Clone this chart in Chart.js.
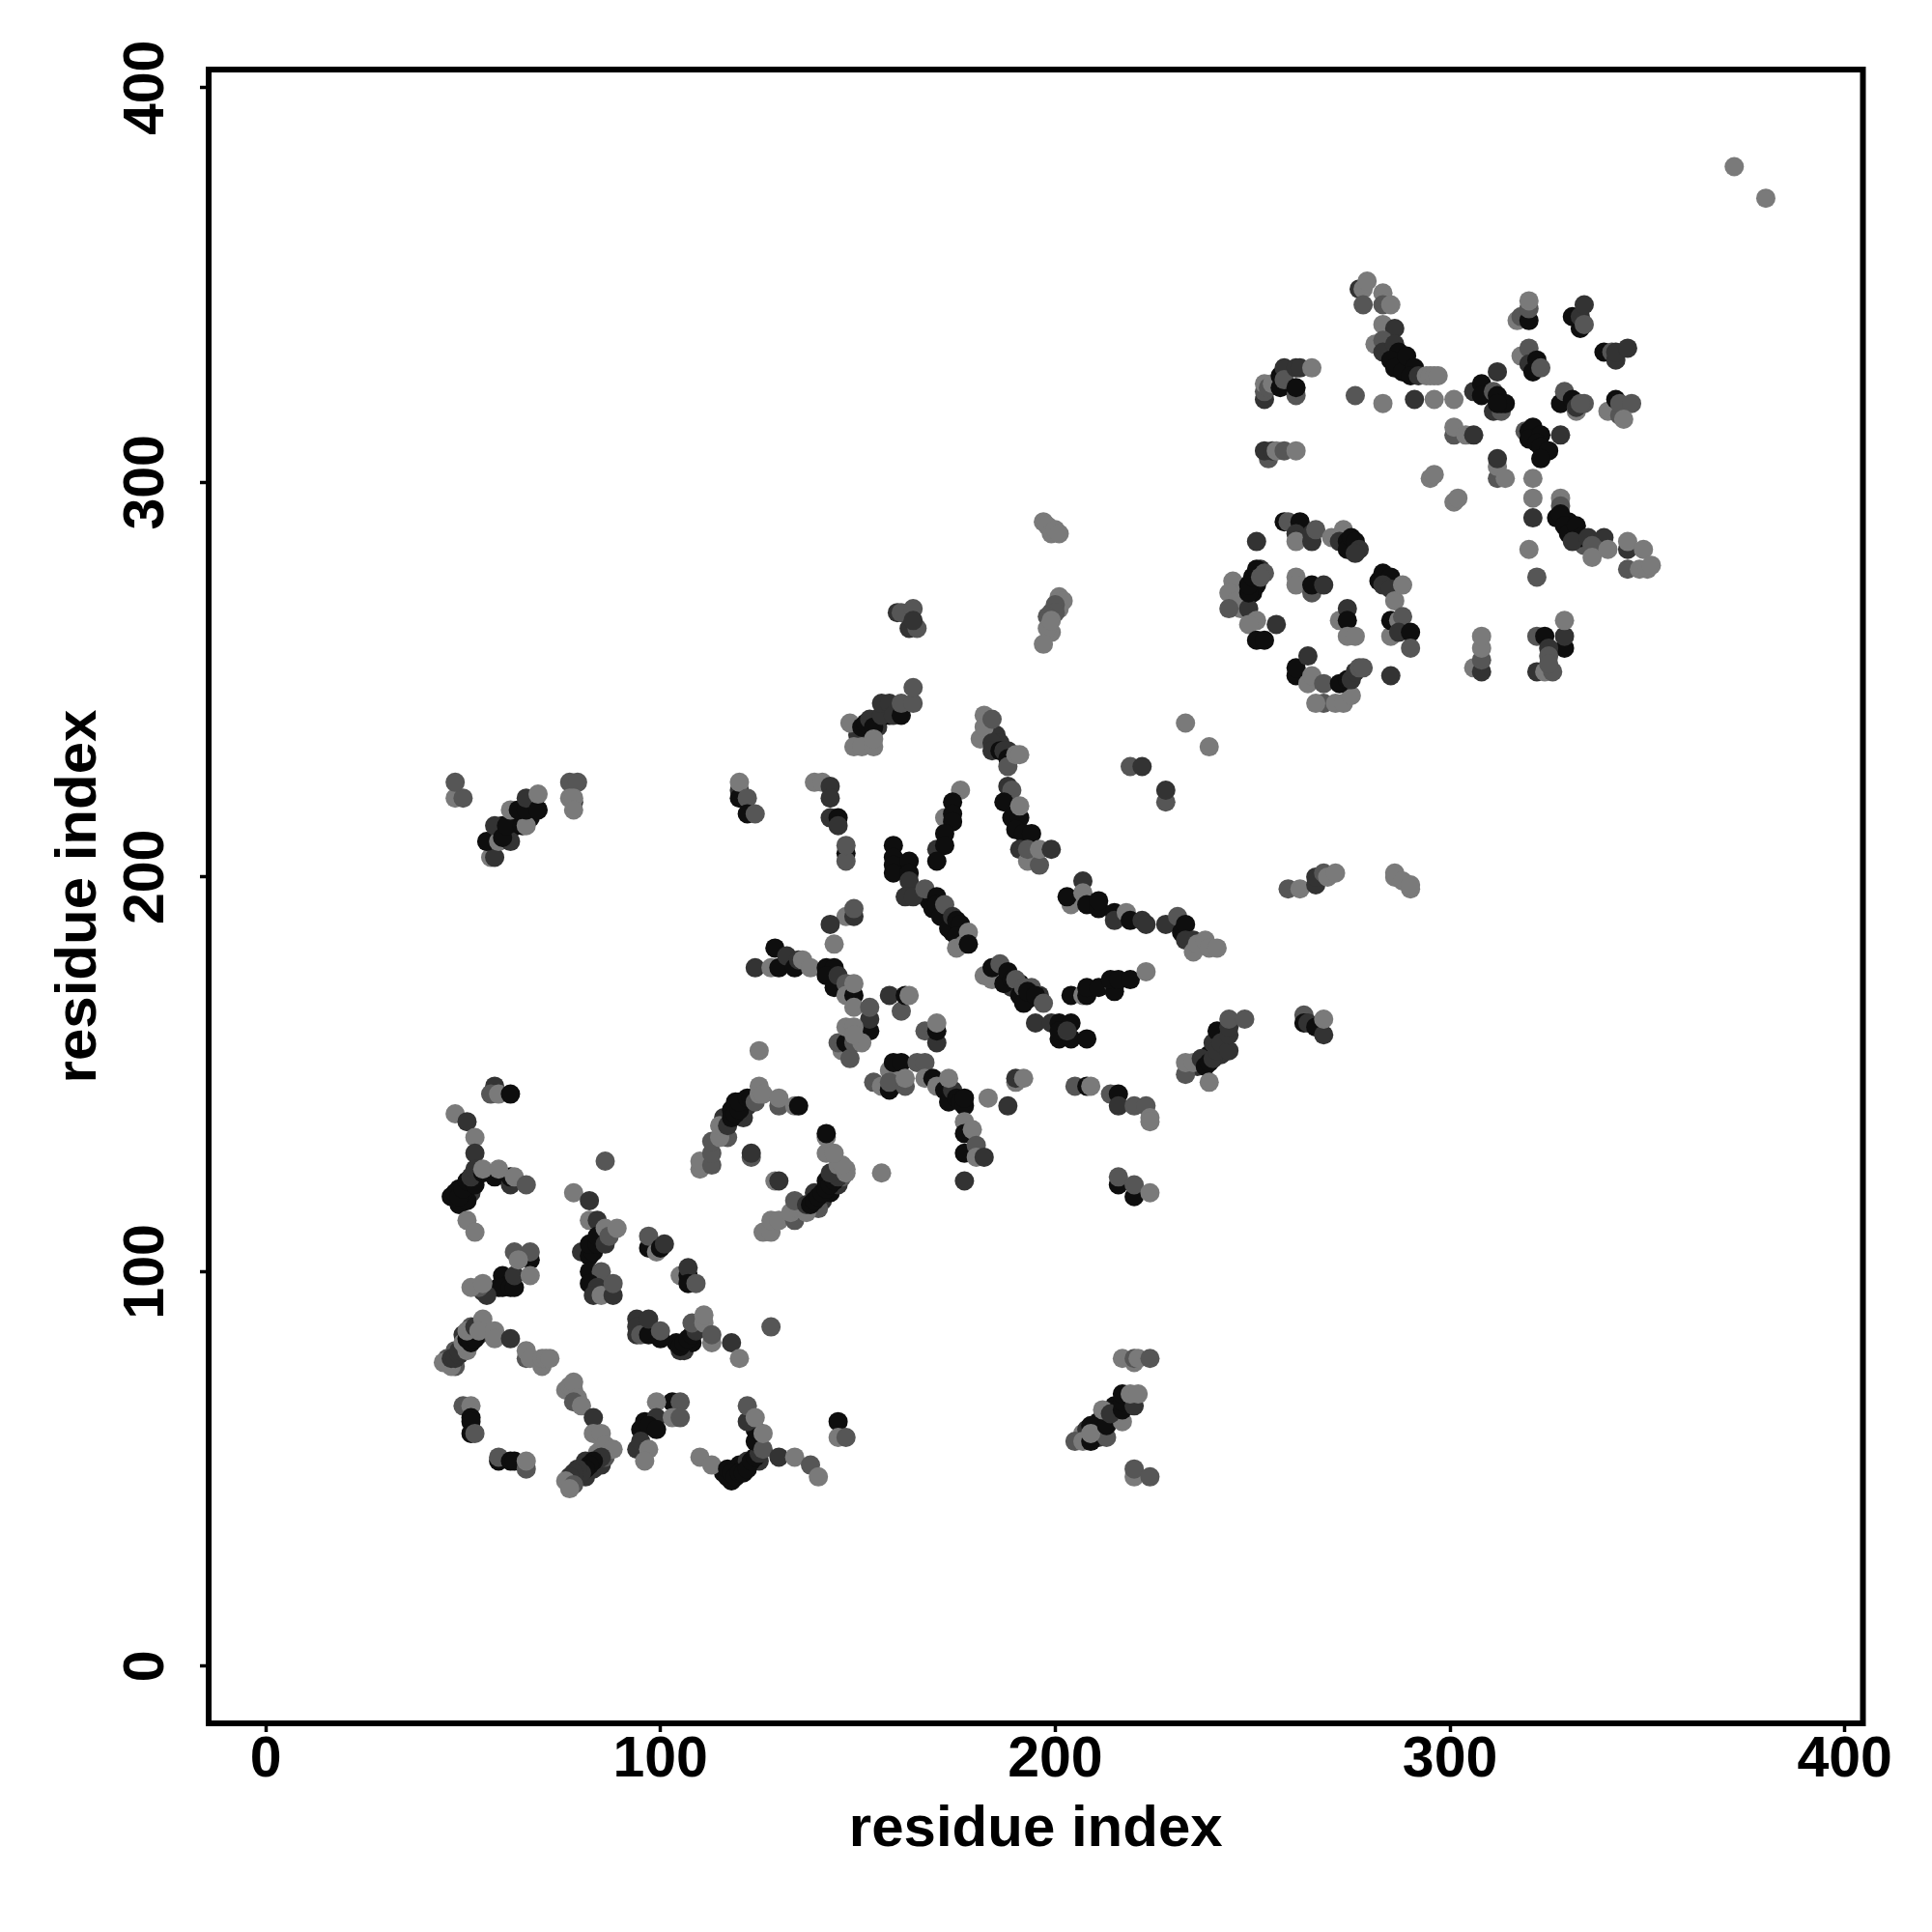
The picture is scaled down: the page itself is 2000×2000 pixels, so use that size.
<!DOCTYPE html>
<html>
<head>
<meta charset="utf-8">
<title>residue contact map</title>
<script src="https://cdn.jsdelivr.net/npm/chart.js@4/dist/chart.umd.min.js"></script>
<style>
  html, body { margin: 0; padding: 0; background: #fff; }
  canvas { display: block; }
</style>
</head>
<body>
<canvas id="contact-map" width="2000" height="2000"></canvas>
<script>
// contacts as [residue i, residue j, strength]; strength 1 (weak) .. 4 (strong)
const denseCoreLow = [[48,80,2],[50,84,3],[52,86,2],[54,84,3],[48,76,2],[46,78,2],[47,119,4],[49,121,4],[52,120,3],[60,213,4],[62,212,4],[63,215,4],[67,215,4],[68,219,3],[79,48,3],[81,48,3],[83,50,3],[85,51,3],[86,53,2],[84,54,1],[81,52,3],[94,84,3],[97,86,3],[99,84,2],[96,86,4],[104,82,4],[106,80,3],[108,82,4],[110,86,3],[116,49,4],[118,47,4],[120,51,4],[122,52,3],[125,52,3],[116,139,3],[118,141,4],[121,139,3],[122,142,3],[119,143,4],[139,120,3],[141,118,3],[143,120,4],[145,122,3],[142,123,4],[140,116,2],[146,124,2],[147,126,1]];
const denseCoreHigh = [[150,236,3],[152,236,3],[155,238,3],[158,241,4],[168,194,4],[172,190,4],[174,186,4],[176,186,3],[177,185,2],[183,236,2],[185,236,3],[186,234,3],[188,232,3],[186,175,3],[189,172,3],[191,173,4],[193,169,4],[196,170,3],[194,172,2],[199,267,2],[201,268,1],[199,262,1],[207,59,1],[208,60,3],[210,60,4],[211,62,4],[211,58,3],[215,63,3],[215,66,4],[236,152,3],[239,155,4],[240,158,3],[242,155,3],[247,272,1],[248,270,2],[247,268,1],[250,272,4],[251,274,4],[252,278,3],[284,333,3],[284,336,3],[288,330,4],[330,290,4],[332,286,3],[334,284,2]];
const starLeft = [[58,147,3],[57,145,2],[59,145,1],[62,145,4],[48,140,1],[51,138,3],[53,134,1],[53,130,3],[49,117,4],[51,118,4],[48,120,4],[50,120,4],[49,119,4],[50,121,4],[51,123,4],[53,122,4],[52,124,3],[53,126,3],[55,125,4],[58,124,4],[62,122,3],[62,124,4],[55,126,1],[59,126,1],[63,124,1],[66,122,2],[51,113,1],[53,110,1]];
const patchA2 = [[60,99,4],[62,97,4],[59,96,4],[60,96,4],[62,96,4],[63,96,4],[63,99,3],[55,95,3],[56,94,3],[54,96,2],[52,96,1],[55,97,1],[67,103,4],[63,105,2],[67,105,2],[64,103,1],[67,99,1]];
const arcA3 = [[45,77,1],[47,76,1],[47,78,3],[48,78,3],[49,79,3],[49,80,3],[50,81,3],[51,80,1],[50,82,1],[51,83,4],[52,84,4],[53,85,3],[52,82,4],[53,83,4],[51,85,1],[53,86,3],[55,88,1],[54,85,1],[58,85,1],[58,83,1],[62,83,3],[66,78,2],[66,80,1],[67,78,1],[70,76,1],[70,78,1],[71,78,1],[72,78,1]];
const patchA4 = [[50,66,2],[52,66,1],[52,63,4],[52,62,4],[52,59,4],[53,59,2],[59,52,4],[59,53,2],[62,52,4],[63,52,4],[66,50,2],[66,52,1]];
const armA5 = [[76,70,1],[77,71,1],[78,70,1],[78,72,1],[79,68,1],[78,67,2],[80,66,1],[83,63,3],[83,59,1],[85,59,1],[85,55,1],[86,56,1],[88,55,1],[85,53,3],[83,52,4],[82,51,4],[81,50,4],[80,49,3],[79,50,3],[78,49,3],[77,48,3],[76,47,1],[78,46,2],[77,45,1]];
const patchA6 = [[103,67,4],[99,67,1],[105,67,2],[96,62,4],[99,63,3],[103,63,1],[105,63,2],[95,60,4],[97,61,4],[99,60,4],[94,55,3],[95,57,3],[97,55,1],[96,52,1]];
const starA7 = [[110,53,1],[113,51,1],[117,48,4],[117,50,4],[118,49,4],[119,48,4],[120,49,4],[121,49,4],[122,50,4],[123,52,4],[124,53,4],[125,54,3],[124,57,4],[124,60,4],[126,55,2],[122,62,3],[122,66,2],[124,63,1],[126,59,1],[130,53,3],[134,53,1],[138,51,2],[140,48,1],[145,62,4],[145,58,1],[147,58,2]];
const bandB1 = [[94,88,3],[94,86,3],[95,84,2],[97,84,4],[97,88,3],[100,83,4],[100,85,2],[105,80,3],[105,81,4],[106,82,4],[107,83,4],[108,84,4],[109,85,3],[108,87,2],[111,87,1],[111,89,1],[113,82,1],[113,84,2],[118,82,3],[120,78,1],[128,86,2]];
const bandB2 = [[78,120,1],[82,118,3],[82,113,1],[84,113,3],[86,128,2],[80,105,3],[82,104,4],[83,105,4],[82,107,4],[84,107,4],[84,109,4],[86,107,3],[86,111,1],[87,109,2],[89,111,1],[82,100,4],[85,100,2],[82,97,4],[84,96,3],[83,94,3],[85,94,1],[88,94,3],[88,97,2]];
const patchB3 = [[97,106,4],[99,105,1],[97,109,2],[100,106,4],[101,107,3],[105,99,1],[107,99,4],[107,101,3],[107,97,4],[109,97,2]];
const arcB5 = [[110,126,1],[110,128,1],[113,127,2],[113,130,2],[113,133,2],[117,134,2],[115,134,1],[115,137,1],[117,137,3],[118,139,4],[119,140,4],[120,141,4],[120,143,4],[122,144,4],[123,144,4],[124,143,2],[125,145,1],[125,147,1],[126,145,1],[130,142,2],[130,144,1],[134,142,1],[135,142,4],[123,129,2],[123,130,3],[129,123,1],[130,123,3]];
const arcB6 = [[126,110,1],[128,110,1],[128,113,1],[130,113,1],[134,113,2],[133,115,1],[135,116,1],[137,115,1],[134,118,2],[137,117,3],[138,117,4],[139,118,4],[140,119,4],[141,120,4],[142,121,4],[143,122,4],[144,123,4],[145,124,3],[143,125,3],[145,127,1],[147,125,1],[146,127,1],[142,130,1],[144,130,1],[142,134,1],[142,135,4],[156,125,1],[125,156,1]];
const bandC = [[154,148,2],[156,147,1],[158,151,1],[158,146,4],[158,148,2],[159,153,4],[161,153,4],[165,153,2],[167,153,2],[162,147,2],[162,149,1],[167,149,1],[169,149,4],[170,147,1],[172,146,4],[173,143,4],[174,146,3],[173,149,1],[175,144,4],[176,143,4],[177,142,4],[177,144,4],[177,138,1],[177,135,4],[179,136,1],[177,130,4],[180,132,2],[177,123,3],[180,129,1],[182,129,3],[183,144,1],[188,142,3],[190,148,1],[190,149,3],[192,149,1],[205,147,2],[208,147,4],[209,147,1]];
const patchC2 = [[214,145,2],[216,145,4],[216,142,3],[220,142,2],[223,142,2],[224,139,1],[224,138,1],[216,122,4],[216,124,2],[220,119,4],[220,122,2],[224,120,1]];
const patchD = [[217,78,1],[220,77,1],[220,78,2],[221,78,1],[224,78,2],[205,57,2],[207,57,1],[209,57,4],[213,58,2],[209,61,4],[209,59,1],[213,61,4],[217,62,1],[212,65,1],[214,64,3],[217,65,4],[217,67,4],[217,69,4],[220,66,3],[219,69,1],[221,69,1],[220,48,1],[220,50,2],[224,48,2]];
const bandE1 = [[148,239,1],[151,238,4],[152,239,4],[153,240,3],[154,238,4],[156,241,3],[156,244,3],[158,244,3],[159,241,3],[161,241,4],[161,244,2],[164,244,2],[164,248,2],[149,233,1],[151,233,1],[154,233,1],[154,235,1]];
const patchE2 = [[139,224,1],[141,224,1],[143,223,3],[143,220,3],[143,215,3],[145,215,4],[145,213,3],[147,206,4],[147,204,2],[147,208,2]];
const patchE3 = [[159,208,4],[159,205,4],[159,203,4],[159,201,4],[163,204,4],[163,201,4],[163,199,3],[162,195,3],[164,195,3]];
const strandE4 = [[176,222,1],[174,219,4],[172,215,1],[174,216,4],[174,214,4],[172,211,4],[170,207,3],[172,208,4],[170,204,4]];
const strandE5 = [[167,197,2],[170,195,4],[169,192,4],[170,193,4],[171,190,4],[172,193,2],[173,187,4],[174,190,3],[175,189,4],[176,188,4],[175,185,4],[175,182,1],[177,183,1],[178,186,1],[178,183,4]];
const strandE6 = [[181,235,1],[182,241,1],[182,238,1],[184,240,2],[184,234,3],[184,232,3],[186,232,4],[187,232,3],[188,230,4],[188,228,2],[190,231,1],[191,231,1],[188,223,3],[189,222,2],[187,219,4],[189,215,4],[191,215,4],[191,218,1],[190,212,4],[192,211,4],[194,211,4],[191,207,3],[193,204,1],[196,203,2],[193,207,2],[196,207,1],[199,207,3]];
const strandE7 = [[204,193,1],[203,195,4],[207,199,3],[207,196,1],[208,193,4],[211,192,4],[211,194,4],[215,191,4],[215,189,3],[218,191,1],[219,189,4],[222,189,3],[223,188,3],[228,188,3],[231,190,2],[232,186,4],[233,188,4],[235,184,3],[233,184,3],[235,181,1],[236,183,1],[238,184,1],[239,182,1],[241,182,1]];
const strandE8 = [[182,175,1],[184,174,1],[184,177,4],[186,178,2],[187,173,4],[188,176,4],[189,174,4],[190,174,2],[191,170,4],[192,172,2],[192,168,4],[193,171,4],[195,170,4],[197,168,2],[195,163,3],[199,163,3],[201,163,4],[204,163,4],[201,159,4],[204,159,4],[201,161,4],[203,161,3],[208,159,4]];
const strandE9 = [[204,170,4],[207,170,1],[208,170,4],[208,172,4],[211,172,4],[215,172,1],[215,171,4],[214,174,4],[216,174,4],[219,174,4],[223,176,1]];
const bandE10 = [[124,177,3],[128,177,1],[130,177,4],[129,182,4],[132,180,3],[134,177,4],[135,179,3],[136,179,1],[138,177,1],[147,190,1],[149,190,3],[149,192,2],[143,188,3],[144,183,1],[142,177,4],[144,177,4],[142,175,4],[144,172,4],[145,175,3],[147,173,2],[147,170,1],[149,170,4],[149,173,1],[149,167,1],[153,161,4],[153,164,3],[153,167,2],[158,170,3],[161,166,2],[162,170,4],[163,170,1],[167,161,2],[170,158,3],[170,161,4],[170,163,1],[146,156,1],[145,158,2],[147,158,4],[148,154,2],[149,158,2],[147,162,1],[149,162,1],[151,158,1],[149,160,1]];
const edgeLeft = [[120,222,3],[120,220,4],[120,224,1],[122,220,2],[122,216,4],[124,216,2],[48,220,1],[50,220,2],[48,224,2],[78,219,3],[77,224,2],[79,224,2],[77,220,1],[78,220,1],[78,217,1]];
const diagLeft = [[57,205,1],[58,205,3],[56,209,4],[59,209,1],[62,209,3],[58,213,3],[60,210,4],[61,213,4],[62,217,1],[65,213,4],[66,213,1],[64,217,4],[66,217,4],[66,220,3],[69,217,4],[69,221,1]];
const patchF1 = [[233,150,2],[233,153,1],[235,153,1],[237,154,3],[238,152,4],[239,153,4],[240,154,3],[241,156,3],[239,148,1],[241,161,4],[242,158,3],[244,156,3],[244,160,3],[244,162,3],[244,164,2],[248,164,2],[263,165,2],[263,163,4],[264,163,3],[266,162,4],[268,160,3],[268,164,1]];
const patchF2 = [[259,197,2],[262,197,1],[266,198,3],[266,200,3],[268,201,2],[269,200,1],[271,201,1],[286,200,1],[286,201,1],[288,199,1],[290,197,1],[290,198,1],[233,239,1],[239,233,1],[219,228,2],[222,228,3],[228,219,2],[228,222,3]];
const patchF4 = [[197,290,1],[198,289,1],[199,287,1],[200,288,1],[201,287,1],[201,271,1],[202,270,1],[200,269,2],[200,267,2],[198,266,2],[198,263,1],[197,259,1],[199,265,1],[160,267,3],[161,267,2],[164,268,2],[163,263,3],[165,263,2],[164,265,3]];
const ringTop = [[251,285,3],[258,290,4],[259,290,2],[262,290,4],[261,287,3],[261,285,1],[265,287,3],[265,285,3],[266,288,2],[270,286,1],[273,288,1],[272,285,3],[274,285,4],[274,283,4],[275,286,4],[276,285,4],[277,283,3],[276,282,3]];
const ringLeft = [[245,275,1],[244,272,1],[246,270,1],[244,268,2],[249,268,3],[249,272,4],[249,274,4],[250,276,4],[251,278,4],[253,277,2],[252,276,2],[251,265,1],[249,264,1],[256,264,3],[251,260,4],[253,260,4]];
const ringInner = [[261,276,1],[261,274,1],[265,272,2],[265,274,4],[268,274,3],[272,265,1],[274,268,3],[274,265,4],[274,261,1],[276,261,1]];
const ringRight = [[282,275,4],[283,277,4],[285,276,4],[283,274,3],[285,273,3],[286,270,1],[288,274,1],[285,261,1],[285,265,4],[287,265,1],[288,266,2],[287,262,3],[290,262,4],[290,258,2],[285,251,3]];
const ringBottom = [[261,251,4],[261,253,4],[264,256,3],[264,249,1],[265,251,1],[268,249,2],[268,244,2],[266,244,1],[271,244,1],[273,244,1],[275,246,1],[272,249,4],[274,250,4],[275,250,3],[276,252,3],[277,253,2],[278,253,2]];
const patchG2 = [[306,253,1],[308,252,3],[308,255,2],[308,258,1],[308,261,1],[322,261,2],[324,261,4],[329,258,4],[329,261,3],[329,265,1],[325,258,3],[325,256,2],[322,252,3],[324,252,1],[326,252,2],[325,254,2]];
const armH = [[328,296,1],[328,294,2],[327,291,4],[328,292,4],[329,289,4],[330,287,4],[332,289,4],[333,286,4],[331,285,3],[335,286,3],[339,286,3],[337,283,2],[336,284,2],[336,281,1],[340,283,1],[345,283,3],[345,285,1],[349,283,1],[345,278,2],[348,278,1],[350,278,1],[351,279,1],[321,296,1],[321,291,3],[320,283,1],[322,276,2]];
const patchI = [[253,321,3],[253,323,2],[253,325,1],[254,324,2],[255,325,1],[257,327,4],[257,324,4],[258,329,3],[258,326,2],[261,322,2],[261,329,3],[262,329,3],[261,324,4],[265,329,1],[254,306,2],[253,308,3],[255,308,3],[256,308,1],[258,308,2],[261,308,1]];
const rowI = [[276,322,2],[283,320,1],[291,321,3],[296,321,1],[301,321,1],[277,349,3],[278,349,1],[279,351,1],[283,348,1],[278,345,2],[283,345,2],[285,345,1]];
const arcI = [[281,335,1],[283,340,1],[286,339,3],[283,336,2],[283,333,3],[286,335,3],[287,333,4],[285,331,4],[286,329,4],[288,328,4],[289,332,4],[291,329,4],[290,327,4],[292,327,3],[294,327,1],[295,327,1],[296,327,1],[297,327,1]];
const starCentre = [[295,301,1],[296,302,1],[301,295,1],[302,296,1],[301,312,2],[301,314,1],[304,312,1],[306,312,3],[306,323,3],[308,325,4],[308,322,4],[311,323,2],[311,318,3],[312,328,3],[312,322,4],[313,318,2],[313,320,4],[314,320,4],[312,320,4],[312,301,2],[312,304,1],[312,306,3],[314,301,1],[321,301,1],[319,313,2],[320,313,4],[321,314,4],[320,311,4],[323,312,4],[322,310,4],[323,309,4],[325,308,4],[323,306,4],[328,312,3]];
const starArms = [[317,341,1],[318,342,2],[320,341,4],[320,344,2],[320,346,1],[318,332,1],[320,334,2],[320,330,3],[322,331,4],[321,328,4],[323,329,2],[331,342,4],[333,339,4],[333,342,3],[334,340,2],[334,345,3],[339,333,4],[341,333,2],[342,331,3],[342,333,3],[345,334,3],[328,320,4],[329,323,2],[331,321,4],[332,318,1],[332,319,3],[334,320,2],[333,320,2],[340,318,1],[342,321,4],[343,317,2],[343,320,2],[346,320,2],[344,316,1]];
const farCorner = [[372,380,1],[380,372,1]];

const tickValues = [0, 100, 200, 300, 400];
const axisLabel = 'residue index';

const contacts = [
  ...denseCoreLow, ...denseCoreHigh,
  ...starLeft, ...patchA2, ...arcA3, ...patchA4, ...armA5, ...patchA6, ...starA7,
  ...bandB1, ...bandB2, ...patchB3, ...arcB5, ...arcB6, ...bandC, ...patchC2, ...patchD,
  ...bandE1, ...patchE2, ...patchE3, ...strandE4, ...strandE5, ...strandE6, ...strandE7,
  ...strandE8, ...strandE9, ...bandE10, ...edgeLeft, ...diagLeft, ...patchF1, ...patchF2,
  ...patchF4, ...ringTop, ...ringLeft, ...ringInner, ...ringRight, ...ringBottom, ...patchG2,
  ...armH, ...patchI, ...rowI, ...arcI, ...starCentre, ...starArms, ...farCorner,
];

// strength → grey
const SHADES = { 1: '#7a7a7a', 2: '#565656', 3: '#333333', 4: '#0e0e0e' };
const TICK_FONT = { family: "'Liberation Sans', Arial, sans-serif", weight: 'bold', size: 59 };
const TITLE_FONT = { family: "'Liberation Sans', Arial, sans-serif", weight: 'bold', size: 60 };

// R-style box round the plot region
const boxPlugin = {
  id: 'box',
  afterDraw(chart) {
    const { left, top, width, height } = chart.chartArea;
    const ctx = chart.ctx;
    ctx.save();
    ctx.strokeStyle = '#000';
    ctx.lineWidth = 6;
    ctx.lineJoin = 'miter';
    ctx.strokeRect(left, top, width, height);
    ctx.restore();
  },
};

const sharedScale = (title, extra) => ({
  type: 'linear',
  min: -14.45,
  max: 404.6,
  afterBuildTicks: s => { s.ticks = tickValues.map(value => ({ value })); },
  grid: { drawOnChartArea: false, drawTicks: true, tickLength: 9, tickWidth: 3.5, tickColor: '#000' },
  border: { display: false },
  title: { display: true, text: title, color: '#000', font: TITLE_FONT, padding: extra.titlePad },
  ticks: { color: '#000', font: TICK_FONT, autoSkip: false, includeBounds: false, ...extra.ticks },
  afterFit: extra.afterFit,
});

new Chart(document.getElementById('contact-map'), {
  type: 'scatter',
  data: {
    datasets: [{
      data: contacts.map(c => ({ x: c[0], y: c[1] })),
      pointRadius: 10,
      pointBorderWidth: 0,
      pointBackgroundColor: contacts.map(c => SHADES[c[2]]),
      clip: false,
    }],
  },
  options: {
    responsive: false,
    animation: false,
    layout: { padding: { top: 72, right: 71.5, left: 0, bottom: 0 } },
    plugins: { legend: { display: false }, tooltip: { enabled: false } },
    scales: {
      x: sharedScale(axisLabel, {
        titlePad: 70,
        ticks: { padding: -6, maxRotation: 0 },
        afterFit: s => { s.height = 216; },
      }),
      y: sharedScale(axisLabel, {
        titlePad: 46,
        ticks: { padding: 5, minRotation: 90, maxRotation: 90, crossAlign: 'center' },
        afterFit: s => { s.width = 216; },
      }),
    },
  },
  plugins: [boxPlugin],
});
</script>
</body>
</html>
